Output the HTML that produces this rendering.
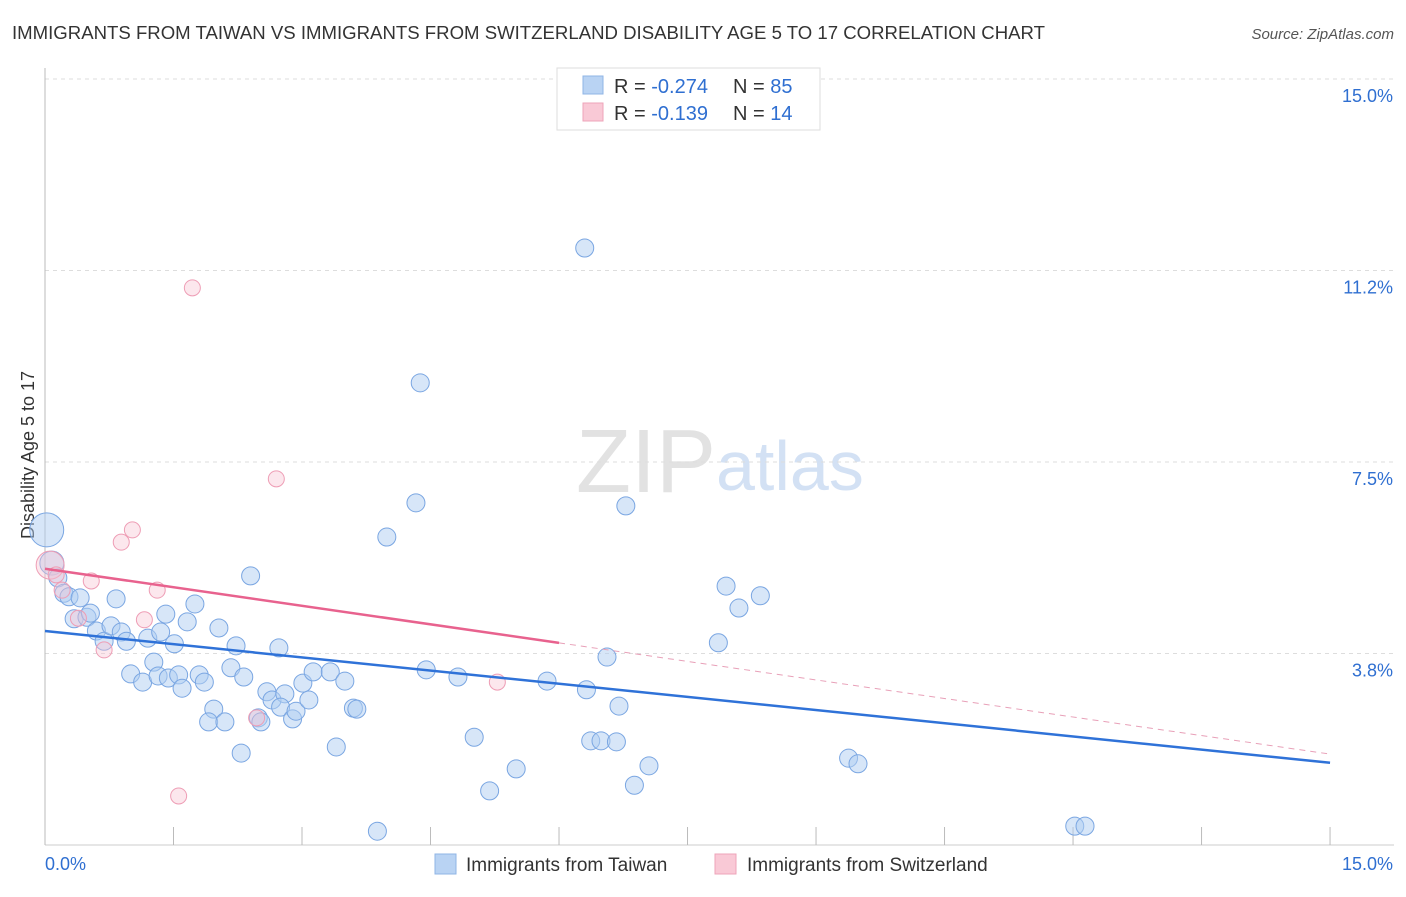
<!DOCTYPE html>
<html><head><meta charset="utf-8"><style>
body{margin:0;background:#fff;font-family:"Liberation Sans",sans-serif;}
svg text{font-family:"Liberation Sans",sans-serif;}
</style></head><body>
<svg id="c" width="1406" height="892" xmlns="http://www.w3.org/2000/svg">
<text x="12" y="39" font-size="18" fill="#333" textLength="1033" lengthAdjust="spacingAndGlyphs">IMMIGRANTS FROM TAIWAN VS IMMIGRANTS FROM SWITZERLAND DISABILITY AGE 5 TO 17 CORRELATION CHART</text>
<text x="1394" y="39" font-size="15" fill="#555" font-style="italic" text-anchor="end">Source: ZipAtlas.com</text>
<text x="716" y="492" font-size="90" fill="#e2e2e2" text-anchor="end" font-family="Liberation Serif">ZIP</text>
<text x="716" y="490" font-size="70" fill="#d3e1f4">atlas</text>
<text x="34" y="455" font-size="18" fill="#333" text-anchor="middle" transform="rotate(-90 34 455)">Disability Age 5 to 17</text>
<g id="grid"></g><g id="pts"></g><g id="lines"></g>
<g>
<rect x="557" y="68" width="263" height="62" fill="#fff" stroke="#ddd"/>
<rect x="583" y="76" width="20" height="18" fill="#b9d3f3" stroke="#8fb5e6"/>
<rect x="583" y="103" width="20" height="18" fill="#f9c9d6" stroke="#eea4b9"/>
<text x="614" y="93" font-size="20" fill="#333">R = <tspan fill="#2f6fd1">-0.274</tspan></text>
<text x="733" y="93" font-size="20" fill="#333">N = <tspan fill="#2f6fd1">85</tspan></text>
<text x="614" y="120" font-size="20" fill="#333">R =  <tspan fill="#2f6fd1">-0.139</tspan></text>
<text x="733" y="120" font-size="20" fill="#333">N =  <tspan fill="#2f6fd1">14</tspan></text>
</g>
<g>
<rect x="435" y="854" width="21" height="20" fill="#b9d3f3" stroke="#8fb5e6"/>
<text x="466" y="871" font-size="19" fill="#333">Immigrants from Taiwan</text>
<rect x="715" y="854" width="21" height="20" fill="#f9c9d6" stroke="#eea4b9"/>
<text x="747" y="871" font-size="19" fill="#333">Immigrants from Switzerland</text>
</g>
</svg>
<script>
const twX=[.02,.08,.15,.22,.28,.41,.34,.49,.53,.83,.60,.69,.77,.89,.95,1.20,1.41,1.75,1.35,1.66,2.03,1.51,2.23,2.73,2.40,1.00,1.14,1.27,1.32,1.44,1.56,1.60,1.80,1.86,1.97,1.91,2.10,2.17,2.32,2.59,2.65,2.80,2.75,2.49,2.52,2.89,2.93,3.01,3.13,3.08,3.33,3.50,3.60,3.64,3.40,2.29,3.88,3.99,4.33,4.38,4.45,4.82,5.01,5.19,5.50,5.86,6.30,6.32,6.56,6.70,6.37,6.49,6.67,6.78,6.88,7.05,7.86,7.95,8.10,8.35,9.38,9.49,12.02,12.14];
const twY=[6.17,5.52,5.23,4.93,4.86,4.84,4.43,4.46,4.54,4.82,4.19,3.99,4.29,4.17,3.99,4.05,4.52,4.72,4.17,4.37,4.25,3.94,3.90,3.86,5.27,3.35,3.19,3.58,3.31,3.27,3.33,3.07,3.33,3.19,2.66,2.41,2.41,3.47,3.29,3.00,2.84,2.96,2.70,2.49,2.41,2.47,2.62,3.17,3.39,2.84,3.39,3.21,2.68,2.66,1.92,1.80,0.27,6.03,6.70,9.05,3.43,3.29,2.11,1.06,1.49,3.21,11.69,3.04,3.68,2.72,2.04,2.04,2.02,6.64,1.17,1.55,3.96,5.07,4.64,4.88,1.70,1.59,0.37,0.37];
const swX=[.06,.13,.20,.54,.39,.69,1.16,1.31,1.02,.89,1.72,2.70,2.47,1.56,5.28];
const swY=[5.48,5.29,4.99,5.17,4.44,3.82,4.41,4.99,6.17,5.93,10.91,7.17,2.49,0.96,3.19];
const yTicks=[3.75,7.5,11.25,15];
const yTickLabels=["3.8%","7.5%","11.2%","15.0%"];
const xTicks=[0,1.5,3,4.5,6,7.5,9,10.5,12,13.5,15];
const twFit=[4.19,-0.172];
const swFit=[5.41,-0.242];
const NS="http://www.w3.org/2000/svg";
const X=v=>45+v*85.67, Y=v=>845-v*51.07;
function mk(tag,attrs,parent){const e=document.createElementNS(NS,tag);for(const k in attrs)e.setAttribute(k,attrs[k]);document.getElementById(parent).appendChild(e);return e;}
yTicks.forEach((t,i)=>{
 const g=mk('line',{x1:45,x2:1394,y1:Y(t),y2:Y(t),stroke:'#ddd','stroke-dasharray':'4,4'},'grid');
 
 
 const l=mk('text',{x:1393,y:Y(t)+23,'font-size':18,fill:'#2f6fd1','text-anchor':'end'},'grid');
 l.textContent=yTickLabels[i];
 
 
});
const ax=mk('line',{x1:45,x2:45,y1:68,y2:845,stroke:'#bbb'},'grid');


const bx=mk('line',{x1:45,x2:1394,y1:845,y2:845,stroke:'#ccc'},'grid');


xTicks.forEach(t=>{
 const k=mk('line',{x1:X(t),x2:X(t),y1:827,y2:845,stroke:'#bbb'},'grid');
 
 
});
const xl0=mk('text',{x:45,y:870,'font-size':18,fill:'#2f6fd1'},'grid');xl0.textContent="0.0%";


const xl1=mk('text',{x:1393,y:870,'font-size':18,fill:'#2f6fd1','text-anchor':'end'},'grid');xl1.textContent="15.0%";


twX.forEach((x,i)=>{
 const r=i==0?17:(i==1?12:9);
 const c=mk('circle',{cx:X(x),cy:Y(twY[i]),r:r,fill:'rgba(175,205,242,0.5)',stroke:'#7aa6e2','stroke-width':1},'pts');
 
 
});
swX.forEach((x,i)=>{
 const r=i==0?14:8;
 const c=mk('circle',{cx:X(x),cy:Y(swY[i]),r:r,fill:'rgba(248,195,210,0.4)',stroke:'#ee9db5','stroke-width':1},'pts');
 
 
});
const tl=mk('line',{x1:X(0),y1:Y(twFit[0]),x2:X(15),y2:Y(twFit[0]+twFit[1]*15),stroke:'#2f72d8','stroke-width':2.5},'lines');


const sl=mk('line',{x1:X(0),y1:Y(swFit[0]),x2:X(6),y2:Y(swFit[0]+swFit[1]*6),stroke:'#e8628e','stroke-width':2.5},'lines');


const sd=mk('line',{x1:X(6),y1:Y(swFit[0]+swFit[1]*6),x2:X(15),y2:Y(swFit[0]+swFit[1]*15),stroke:'#e8a0b8','stroke-width':1,'stroke-dasharray':'6,5'},'lines');


</script>
</body></html>
